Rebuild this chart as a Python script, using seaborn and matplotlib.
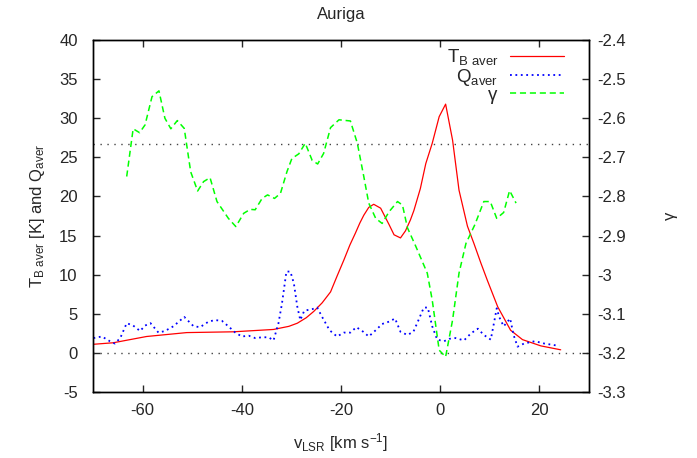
import numpy as np
import pandas as pd
import matplotlib
matplotlib.use("Agg")
import matplotlib.pyplot as plt
import seaborn as sns
from matplotlib.ticker import FormatStrFormatter, MultipleLocator

# ---- data ----
t_v = [-70, -65.9, -59.2, -51.1, -41.7, -33.6, -30.5, -28.8, -27.0, -25.5, -23.8, -22.1, -20.8, -19.4,
       -18.2, -17.1, -16.2, -15.4, -14.4, -13.4, -12.0, -10.3, -9.3, -8.0, -7.0, -6.0, -5.3, -4.0,
       -2.9, -1.6, -0.2, 1.1, 2.5, 3.8, 5.5, 6.8, 8.2, 9.5, 11.6, 14.2, 16.6, 20.3, 24.3]
t_b = [1.1, 1.3, 2.1, 2.6, 2.7, 3.0, 3.4, 3.8, 4.5, 5.3, 6.4, 7.8, 9.8, 11.9,
       13.8, 15.3, 16.6, 17.6, 18.6, 19.0, 18.5, 16.4, 15.1, 14.7, 15.6, 17.0, 18.2, 21.0,
       24.2, 26.8, 30.2, 31.8, 27.2, 20.8, 16.2, 14.0, 11.5, 9.3, 5.9, 2.9, 1.7, 0.9, 0.4]

q_v = [-69.9, -68.2, -66.6, -65.6, -64.5, -63.2, -61.9, -60.5, -59.5, -58.4, -56.8, -55.5,
       -53.8, -51.6, -49.7, -48.4, -46.7, -45.4, -44.0, -42.7, -41.3, -40.0, -38.6, -37.3,
       -35.9, -34.6, -33.6, -32.6, -31.9, -31.0, -30.2, -29.5, -28.8, -28.2, -27.4, -25.8,
       -24.8, -23.8, -22.3, -20.8, -19.4, -18.1, -16.9, -15.5, -14.4, -13.0, -11.7, -10.3,
       -9.1, -8.0, -6.6, -5.4, -4.3, -3.3, -2.5, -1.6, -0.6, 0.8, 1.8, 3.1, 4.8, 6.2, 7.6,
       8.8, 10.2, 10.9, 11.4, 11.9, 12.8, 14.1, 14.8, 15.6, 16.9, 19.1, 21.0, 24.0]
q_aver = [1.9, 2.1, 1.5, 1.2, 1.9, 3.8, 3.5, 2.8, 3.5, 3.8, 2.6, 2.8,
          3.4, 4.6, 3.4, 3.3, 4.0, 4.2, 4.1, 3.4, 2.6, 2.1, 2.2, 1.9,
          2.0, 2.0, 1.6, 3.8, 6.3, 10.4, 10.4, 8.9, 5.9, 4.2, 5.4, 5.6,
          5.8, 4.6, 2.9, 2.1, 2.6, 2.6, 3.3, 2.7, 2.1, 2.9, 3.7, 4.0,
          4.4, 2.7, 2.3, 2.7, 4.3, 5.8, 5.8, 3.4, 1.7, 1.5, 1.8, 1.9, 1.6, 2.5, 3.1,
          2.3, 1.7, 4.0, 5.7, 4.6, 3.4, 4.4, 2.3, 0.8, 1.2, 1.5, 1.2, 0.9]

g_v = [-63.2, -61.9, -60.6, -59.5, -58.1, -56.7, -55.5, -54.3, -53.0, -51.6, -50.3, -48.9,
       -47.7, -46.4, -45.0, -42.7, -41.2, -39.6, -38.3, -37.3, -35.9, -34.8, -33.4, -32.2,
       -30.9, -29.9, -28.5, -27.2, -25.8, -24.7, -23.5, -22.1, -20.4, -18.1, -16.7, -15.4,
       -14.4, -13.0, -11.7, -10.3, -8.6, -7.6, -6.6, -4.9, -2.6, -1.6, -0.2, 1.1, 2.5, 3.8,
       5.2, 7.0, 8.8, 10.1, 11.4, 12.8, 14.0, 15.3]
gamma = [-2.749, -2.627, -2.637, -2.617, -2.545, -2.530, -2.600, -2.627, -2.606, -2.626, -2.737, -2.786,
         -2.762, -2.752, -2.813, -2.856, -2.877, -2.843, -2.833, -2.834, -2.805, -2.796, -2.805, -2.792,
         -2.737, -2.703, -2.691, -2.664, -2.708, -2.717, -2.690, -2.624, -2.604, -2.607, -2.664, -2.749,
         -2.817, -2.856, -2.869, -2.839, -2.813, -2.822, -2.880, -2.928, -2.996, -3.065, -3.193, -3.210,
         -3.116, -2.996, -2.920, -2.872, -2.813, -2.813, -2.856, -2.841, -2.785, -2.817]

gamma_ref = -2.667

df_t = pd.DataFrame({"v": t_v, "y": t_b})
df_q = pd.DataFrame({"v": q_v, "y": q_aver})
df_g = pd.DataFrame({"v": g_v, "y": gamma})

sns.set_style("ticks")
plt.rcParams["font.family"] = ["Liberation Sans", "DejaVu Sans"]
plt.rcParams["mathtext.default"] = "regular"
plt.rcParams["axes.unicode_minus"] = False
plt.rcParams["font.size"] = 12

fig = plt.figure(figsize=(6.97, 4.58), dpi=100)
ax = fig.add_axes([0.1334, 0.144, 0.845 - 0.1334, 0.9127 - 0.144])
ax2 = ax.twinx()

sns.lineplot(data=df_t, x="v", y="y", ax=ax, color="#ff0000", lw=0.9, label=r"$T_{B\ aver}$", legend=False)
sns.lineplot(data=df_q, x="v", y="y", ax=ax, color="#0000ff", lw=1.3, ls=(0, (1, 2)), label=r"$Q_{aver}$", legend=False)
sns.lineplot(data=df_g, x="v", y="y", ax=ax2, color="#00ff00", lw=1.1, ls=(0, (4, 2.5)), label=r"$\gamma$", legend=False)

ax.axhline(0, color="#444444", lw=1.0, ls=(0, (1, 4)))
ax2.axhline(gamma_ref, color="#444444", lw=1.0, ls=(0, (1, 4)))

ax.set_xlim(-70, 30)
ax.set_ylim(-5, 40)
ax2.set_ylim(-3.3, -2.4)
ax.xaxis.set_major_locator(MultipleLocator(20))
ax.yaxis.set_major_locator(MultipleLocator(5))
ax2.yaxis.set_major_locator(MultipleLocator(0.1))
ax2.yaxis.set_major_formatter(FormatStrFormatter("%g"))

for a in (ax, ax2):
    for s in a.spines.values():
        s.set_linewidth(1.0)
        s.set_color("black")
ax.tick_params(axis="y", direction="in", length=5, width=1, labelsize=12, pad=11)
ax.tick_params(axis="x", direction="in", top=True, length=5, width=1, labelsize=12, pad=8)
ax2.tick_params(direction="in", length=5, width=1, labelsize=12, pad=6)

ax.set_xlabel(r"$v_{LSR}$ [km s$^{-1}$]", fontsize=12, labelpad=9)
ax.set_ylabel(r"$T_{B\ aver}$ [K] and $Q_{aver}$", fontsize=12, labelpad=9)
ax2.set_ylabel(r"$\gamma$", fontsize=12, rotation=90, labelpad=27)
ax.set_title("Auriga", fontsize=12, pad=15)

h1, l1 = ax.get_legend_handles_labels()
h2, l2 = ax2.get_legend_handles_labels()
ax2.legend(h1 + h2, l1 + l2, loc="upper right", frameon=False, markerfirst=False,
           fontsize=13.5, handlelength=2.9, handletextpad=0.6, labelspacing=-0.05,
           borderaxespad=0.0, bbox_to_anchor=(0.965, 1.0))

fig.savefig("out.png", dpi=100)
